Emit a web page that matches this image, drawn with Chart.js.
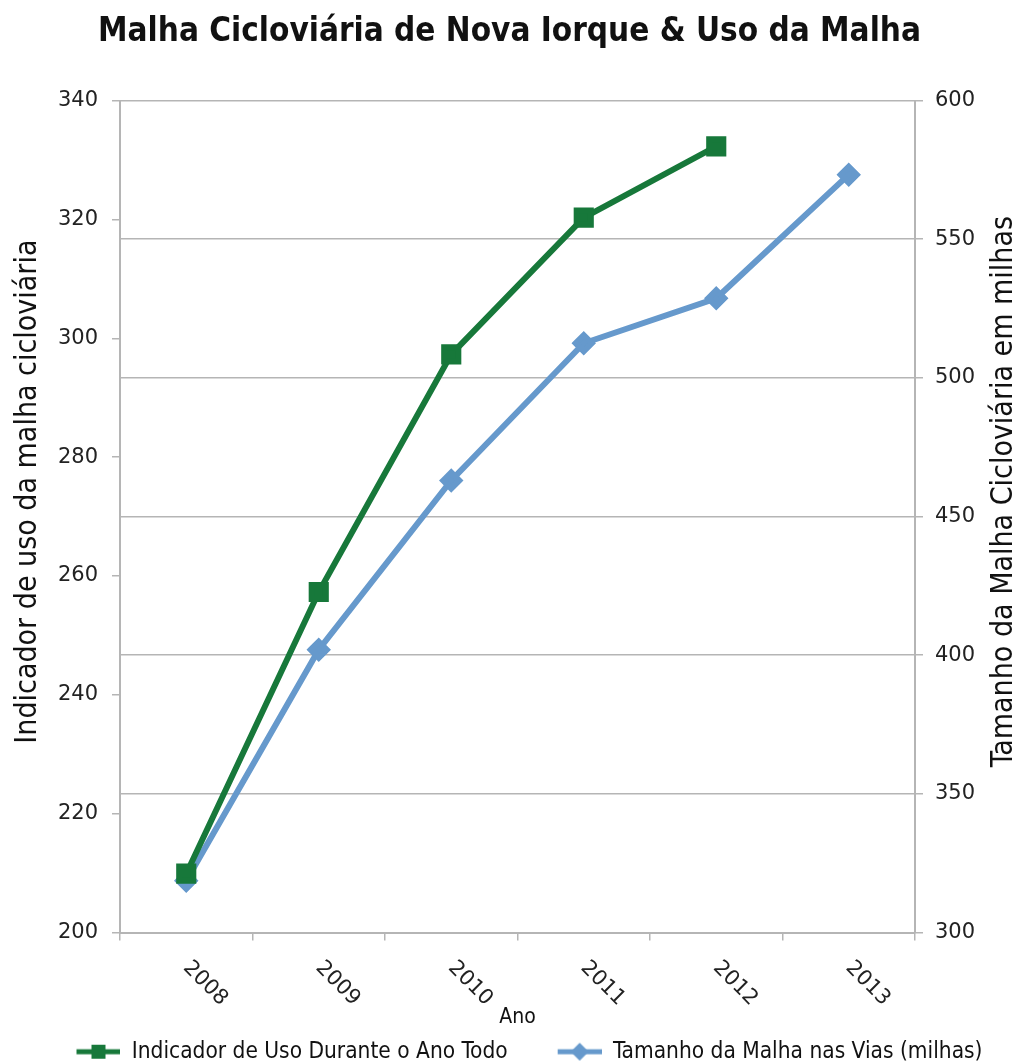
<!DOCTYPE html>
<html>
<head>
<meta charset="utf-8">
<script src="https://cdn.jsdelivr.net/npm/chart.js@4"></script>
<style>
  html, body { margin: 0; padding: 0; background: #fff; }
  #wrap { width: 1019px; height: 1063px; position: relative; }
</style>
</head>
<body>
<div id="wrap"><canvas id="chart"></canvas></div>
<script>
// Dados
const anos = ['2008', '2009', '2010', '2011', '2012', '2013'];
const indicadorUso = [209.9, 257.3, 297.3, 320.3, 332.3, null];
const tamanhoMalha = [318.7, 402, 463, 512.5, 528.7, 573.3];

const titulo = 'Malha Cicloviária de Nova Iorque & Uso da Malha';
const tituloEsq = 'Indicador de uso da malha cicloviária';
const tituloDir = 'Tamanho da Malha Cicloviária em milhas';
const nomeUso = 'Indicador de Uso Durante o Ano Todo';
const nomeMalha = 'Tamanho da Malha nas Vias (milhas)';

const VERDE = '#17783a';
const AZUL = '#6699cc';
const GRADE = '#b5b5b5';
const FONTE = '"DejaVu Sans Condensed", "DejaVu Sans", sans-serif';
const FONTE_NUM = '"DejaVu Sans", sans-serif';

// icone da legenda: linha com marcador (margem transparente a esquerda = espaco entre itens)
function iconeLegenda(cor, tipo) {
    const c = document.createElement('canvas');
    c.width = 84; c.height = 20;
    const g = c.getContext('2d');
    g.strokeStyle = cor; g.lineWidth = 5;
    g.beginPath(); g.moveTo(40, 10); g.lineTo(84, 10); g.stroke();
    g.fillStyle = cor;
    if (tipo === 'rect') {
        g.fillRect(55, 3, 14, 14);
    } else {
        g.beginPath();
        g.moveTo(62, 1); g.lineTo(71, 10); g.lineTo(62, 19); g.lineTo(53, 10);
        g.closePath(); g.fill();
    }
    return c;
}
const icones = [iconeLegenda(VERDE, 'rect'), iconeLegenda(AZUL, 'rectRot')];

// rotulos do eixo x inclinados e titulos dos eixos y
const rotulosPlugin = {
    id: 'rotulos',
    afterDraw(chart) {
        const ctx = chart.ctx;
        const x = chart.scales.x;
        const area = chart.chartArea;
        ctx.save();
        ctx.fillStyle = '#222';
        ctx.font = '21px ' + FONTE_NUM;
        ctx.textAlign = 'center';
        ctx.textBaseline = 'middle';
        anos.forEach((a, i) => {
            const px = x.getPixelForTick(i);
            ctx.save();
            ctx.translate(px + 19, x.top + 51);
            ctx.rotate(Math.PI / 4);
            ctx.fillText(a, 0, 0);
            ctx.restore();
        });

        ctx.font = '30px ' + FONTE;
        ctx.fillStyle = '#111';
        const cy = area.top + (area.bottom - area.top) * 0.47;
        ctx.save();
        ctx.translate(28, cy);
        ctx.rotate(-Math.PI / 2);
        ctx.fillText(tituloEsq, 0, 0);
        ctx.restore();
        ctx.save();
        ctx.translate(1004, cy);
        ctx.rotate(-Math.PI / 2);
        ctx.fillText(tituloDir, 0, 0);
        ctx.restore();
        ctx.restore();
    }
};

const ctx = document.getElementById('chart').getContext('2d');
const chart = new Chart(ctx, {
    type: 'line',
    data: {
        labels: anos,
        datasets: [{
            label: nomeUso,
            data: indicadorUso,
            yAxisID: 'y',
            borderColor: VERDE,
            backgroundColor: VERDE,
            borderWidth: 6,
            pointStyle: 'rect',
            pointRadius: 10,
            pointHoverRadius: 10,
            tension: 0
        }, {
            label: nomeMalha,
            data: tamanhoMalha,
            yAxisID: 'y1',
            borderColor: AZUL,
            backgroundColor: AZUL,
            borderWidth: 6,
            pointStyle: 'rectRot',
            pointRadius: 8,
            pointHoverRadius: 8,
            tension: 0
        }]
    },
    options: {
        responsive: true,
        maintainAspectRatio: false,
        animation: false,
        layout: { padding: { top: 0, left: 0, right: 0, bottom: -10 } },
        plugins: {
            title: {
                display: true,
                text: titulo,
                color: '#111',
                font: { family: FONTE, size: 33, weight: 'bold' },
                padding: { top: 13, bottom: 48 }
            },
            legend: {
                position: 'bottom',
                labels: {
                    usePointStyle: true,
                    pointStyleWidth: 84,
                    padding: 10,
                    color: '#111',
                    font: { family: FONTE, size: 22.5 },
                    generateLabels(chart) {
                        const itens = Chart.defaults.plugins.legend.labels.generateLabels(chart);
                        itens.forEach((it, i) => { it.pointStyle = icones[i]; });
                        return itens;
                    }
                }
            },
            tooltip: { enabled: false }
        },
        scales: {
            x: {
                offset: true,
                grid: {
                    display: true,
                    drawOnChartArea: false,
                    offset: true,
                    tickLength: 8,
                    color: GRADE,
                    lineWidth: 1.5
                },
                border: { color: GRADE, width: 2 },
                ticks: { display: false },
                title: {
                    display: true,
                    text: 'Ano',
                    color: '#111',
                    font: { family: FONTE, size: 21 },
                    padding: 0
                },
                afterFit(scale) { scale.height = 98; }
            },
            y: {
                position: 'left',
                min: 200,
                max: 340,
                ticks: {
                    stepSize: 20,
                    color: '#222',
                    padding: 14,
                    font: { family: FONTE_NUM, size: 21 }
                },
                grid: {
                    drawOnChartArea: false,
                    tickLength: 8,
                    color: GRADE,
                    lineWidth: 1.5
                },
                border: { color: GRADE, width: 2 },
                afterFit(scale) { scale.width = 120; }
            },
            y1: {
                position: 'right',
                min: 300,
                max: 600,
                ticks: {
                    stepSize: 50,
                    color: '#222',
                    padding: 12,
                    font: { family: FONTE_NUM, size: 21 }
                },
                grid: {
                    drawOnChartArea: true,
                    tickLength: 8,
                    color: GRADE,
                    lineWidth: 1.5
                },
                border: { color: GRADE, width: 2 },
                afterFit(scale) { scale.width = 104; }
            }
        }
    },
    plugins: [rotulosPlugin]
});
</script>
</body>
</html>
